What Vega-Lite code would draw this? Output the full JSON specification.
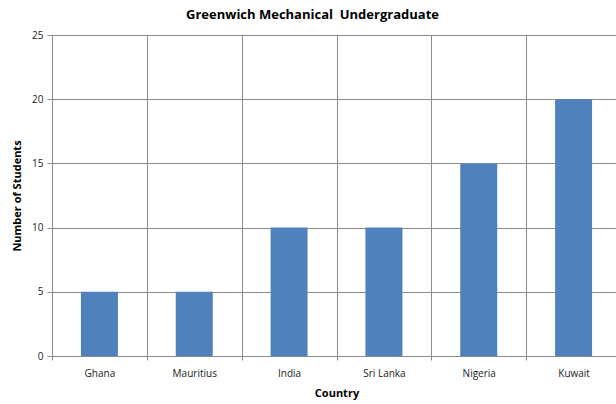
{
  "$schema": "https://vega.github.io/schema/vega-lite/v6.json",
  "autosize": "none",
  "padding": {"left": 52, "top": 35, "right": 0, "bottom": 48},
  "width": 569,
  "height": 321,
  "background": "white",
  "title": {
    "text": "Greenwich Mechanical \u00a0Undergraduate",
    "font": "Open Sans",
    "fontSize": 13,
    "fontWeight": "bold",
    "color": "#000000",
    "anchor": "middle",
    "dx": -24,
    "offset": 8
  },
  "data": {
    "values": [
      {"Country": "Ghana", "Students": 5},
      {"Country": "Mauritius", "Students": 5},
      {"Country": "India", "Students": 10},
      {"Country": "Sri Lanka", "Students": 10},
      {"Country": "Nigeria", "Students": 15},
      {"Country": "Kuwait", "Students": 20}
    ]
  },
  "mark": {"type": "bar", "color": "#4F81BD", "width": {"band": 0.39}},
  "encoding": {
    "x": {
      "field": "Country",
      "type": "nominal",
      "sort": null,
      "scale": {"paddingInner": 0, "paddingOuter": 0},
      "axis": {
        "title": "Country",
        "labelAngle": 0,
        "grid": true,
        "bandPosition": 0,
        "ticks": true,
        "tickBand": "extent",
        "tickSize": 4,
        "labelPadding": 8,
        "titlePadding": 9
      }
    },
    "y": {
      "field": "Students",
      "type": "quantitative",
      "scale": {"domain": [0, 25]},
      "axis": {
        "title": "Number of Students",
        "values": [0, 5, 10, 15, 20, 25],
        "tickSize": 5,
        "labelPadding": 4,
        "titlePadding": 9
      }
    }
  },
  "config": {
    "view": {"stroke": null},
    "axis": {
      "labelFont": "Open Sans",
      "labelFontSize": 10,
      "labelColor": "#222222",
      "titleFont": "Open Sans",
      "titleFontSize": 11,
      "titleFontWeight": "bold",
      "titleColor": "#000000",
      "domainColor": "#8c8c8c",
      "tickColor": "#8c8c8c",
      "gridColor": "#8c8c8c",
      "gridOpacity": 1,
      "gridWidth": 1
    }
  }
}
